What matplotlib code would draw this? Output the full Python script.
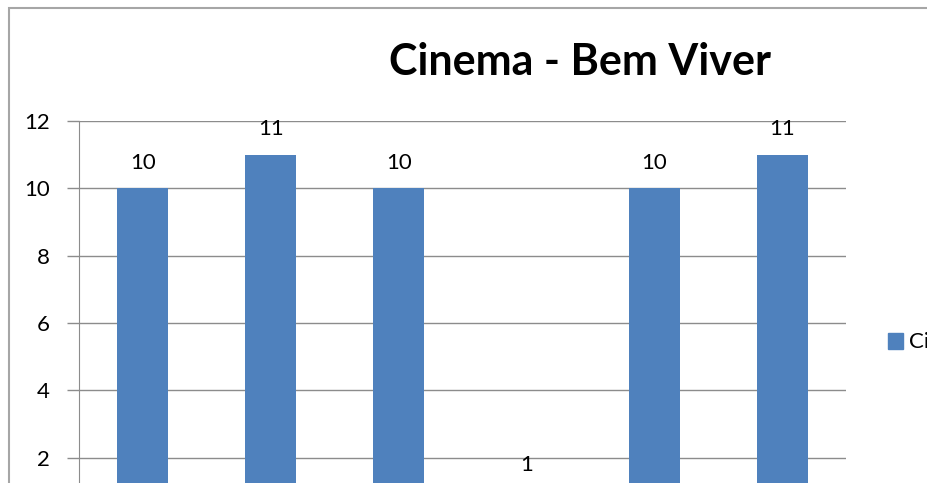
import matplotlib
matplotlib.use("Agg")
import matplotlib.pyplot as plt
from matplotlib.patches import Rectangle

plt.rcParams["font.family"] = ["Lato", "DejaVu Sans"]

categories = ["1", "2", "3", "4", "5", "6"]
values = [10, 11, 10, 1, 10, 11]
legend_label = "Ci"
yticks = [2, 4, 6, 8, 10, 12]

BLUE = "#4F81BD"
GRID = "#8c8c8c"
W, H = 928, 483

fig = plt.figure(figsize=(W / 100, H / 100), dpi=100)

# chart frame (runs off the right and bottom edge)
fig.patches.append(Rectangle((9 / W, -0.1), 1.2, 1 - 8 / H + 0.1,
                             transform=fig.transFigure, fill=False,
                             ec="#a6a6a6", lw=1.5))

# plot area: value 12 sits at y=121px, value 0 falls below the figure
px_per_unit = 67.3 / 2
top = 121
bottom = top + 12 * px_per_unit
left, right = 79, 846
ax = fig.add_axes([left / W, 1 - bottom / H, (right - left) / W, (bottom - top) / H])

x = range(len(categories))
ax.bar(x, values, width=0.4, color=BLUE, zorder=3)
for xi, v in zip(x, values):
    ax.annotate(str(v), (xi, v), xytext=(0, 18.5), textcoords="offset points",
                ha="center", va="center", fontsize=16, color="black")

ax.set_xlim(-0.5, len(categories) - 0.5)
ax.set_ylim(0, 12)
ax.set_yticks(yticks)
ax.set_yticklabels([str(t) for t in yticks], fontsize=16)
ax.tick_params(axis="y", length=9, width=1, color=GRID, pad=12)
ax.tick_params(axis="x", bottom=False, labelbottom=False)
ax.yaxis.grid(True, color=GRID, lw=1, zorder=0)
for side in ["top", "right", "bottom"]:
    ax.spines[side].set_visible(False)
ax.spines["left"].set_color(GRID)
ax.set_facecolor("none")

fig.text(580 / W, 1 - 62 / H, "Cinema - Bem Viver", ha="center", va="center",
         fontsize=31, fontweight="bold")

# legend entry at the right edge
fig.patches.append(Rectangle((888 / W, 1 - 349 / H), 15 / W, 16 / H,
                             transform=fig.transFigure, color=BLUE))
fig.text(909 / W, 1 - 342 / H, legend_label, ha="left", va="center", fontsize=16)

fig.savefig("out.png", dpi=100)
